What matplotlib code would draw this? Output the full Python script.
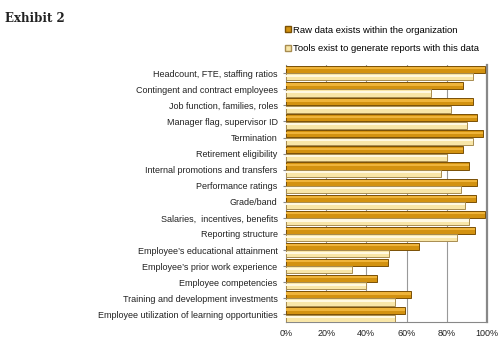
import numpy as np
import matplotlib.pyplot as plt
from matplotlib.patches import Patch

plt.rcParams['font.family'] = ['Liberation Sans', 'DejaVu Sans']

categories = [
    "Headcount, FTE, staffing ratios",
    "Contingent and contract employees",
    "Job function, families, roles",
    "Manager flag, supervisor ID",
    "Termination",
    "Retirement eligibility",
    "Internal promotions and transfers",
    "Performance ratings",
    "Grade/band",
    "Salaries,  incentives, benefits",
    "Reporting structure",
    "Employee\u2019s educational attainment",
    "Employee\u2019s prior work experience",
    "Employee competencies",
    "Training and development investments",
    "Employee utilization of learning opportunities",
]
raw_data = [99, 88, 93, 95, 98, 88, 91, 95, 94.5, 99, 94, 66, 51, 45.5, 62, 59]
tools = [93, 72, 82, 90, 93, 80, 77, 87, 89, 91, 85, 51.5, 33, 40, 54, 54]
ticks = [0, 20, 40, 60, 80, 100]

fig = plt.figure(figsize=(4.99, 3.43), dpi=100)
ax = fig.add_axes([0.573, 0.06, 0.403, 0.75])

y = np.arange(len(categories))
h = 0.44
off = 0.23

# raw bars (dark gold) with a highlight stripe for the cylinder look
ax.barh(y - off, raw_data, height=h, color="#D39210", edgecolor="#7A5005", linewidth=0.7, zorder=3)
ax.barh(y - off - 0.07, raw_data, height=h * 0.3, color="#EFB43A", linewidth=0, zorder=4)
# tools bars (pale cream)
ax.barh(y + off, tools, height=h, color="#F8E6A8", edgecolor="#A88C50", linewidth=0.7, zorder=3)
ax.barh(y + off - 0.07, tools, height=h * 0.3, color="#FFF9E2", linewidth=0, zorder=4)

ax.set_xlim(0, 100)
ax.set_ylim(len(categories) - 0.5, -0.5)
ax.set_yticks(y)
ax.set_yticklabels(categories, fontsize=6.5, color="#222222")
ax.set_xticks(ticks)
ax.set_xticklabels(["{}%".format(t) for t in ticks], fontsize=6.5, color="#222222")
ax.tick_params(axis="y", length=2, color="#888888", pad=4)
ax.tick_params(axis="x", length=0, pad=5)
ax.grid(axis="x", color="#999999", linewidth=0.8, zorder=0)
ax.spines["top"].set_visible(False)
ax.spines["right"].set_color("#888888")
ax.spines["right"].set_linewidth(1.6)
ax.spines["left"].set_color("#888888")
ax.spines["bottom"].set_color("#888888")

handles = [Patch(facecolor="#D39210", edgecolor="#7A5005"),
           Patch(facecolor="#F8E6A8", edgecolor="#A88C50")]
fig.text(0.01, 0.965, "Exhibit 2", fontsize=8.5, fontweight="bold",
         family="DejaVu Serif", va="top", color="#222222")
fig.legend(handles, ["Raw data exists within the organization",
                     "Tools exist to generate reports with this data"],
           loc="upper left", bbox_to_anchor=(0.555, 0.95), frameon=False,
           fontsize=6.8, handlelength=0.6, handleheight=0.6,
           handletextpad=0.2, labelspacing=1.0)

fig.savefig("out.png", dpi=100)
